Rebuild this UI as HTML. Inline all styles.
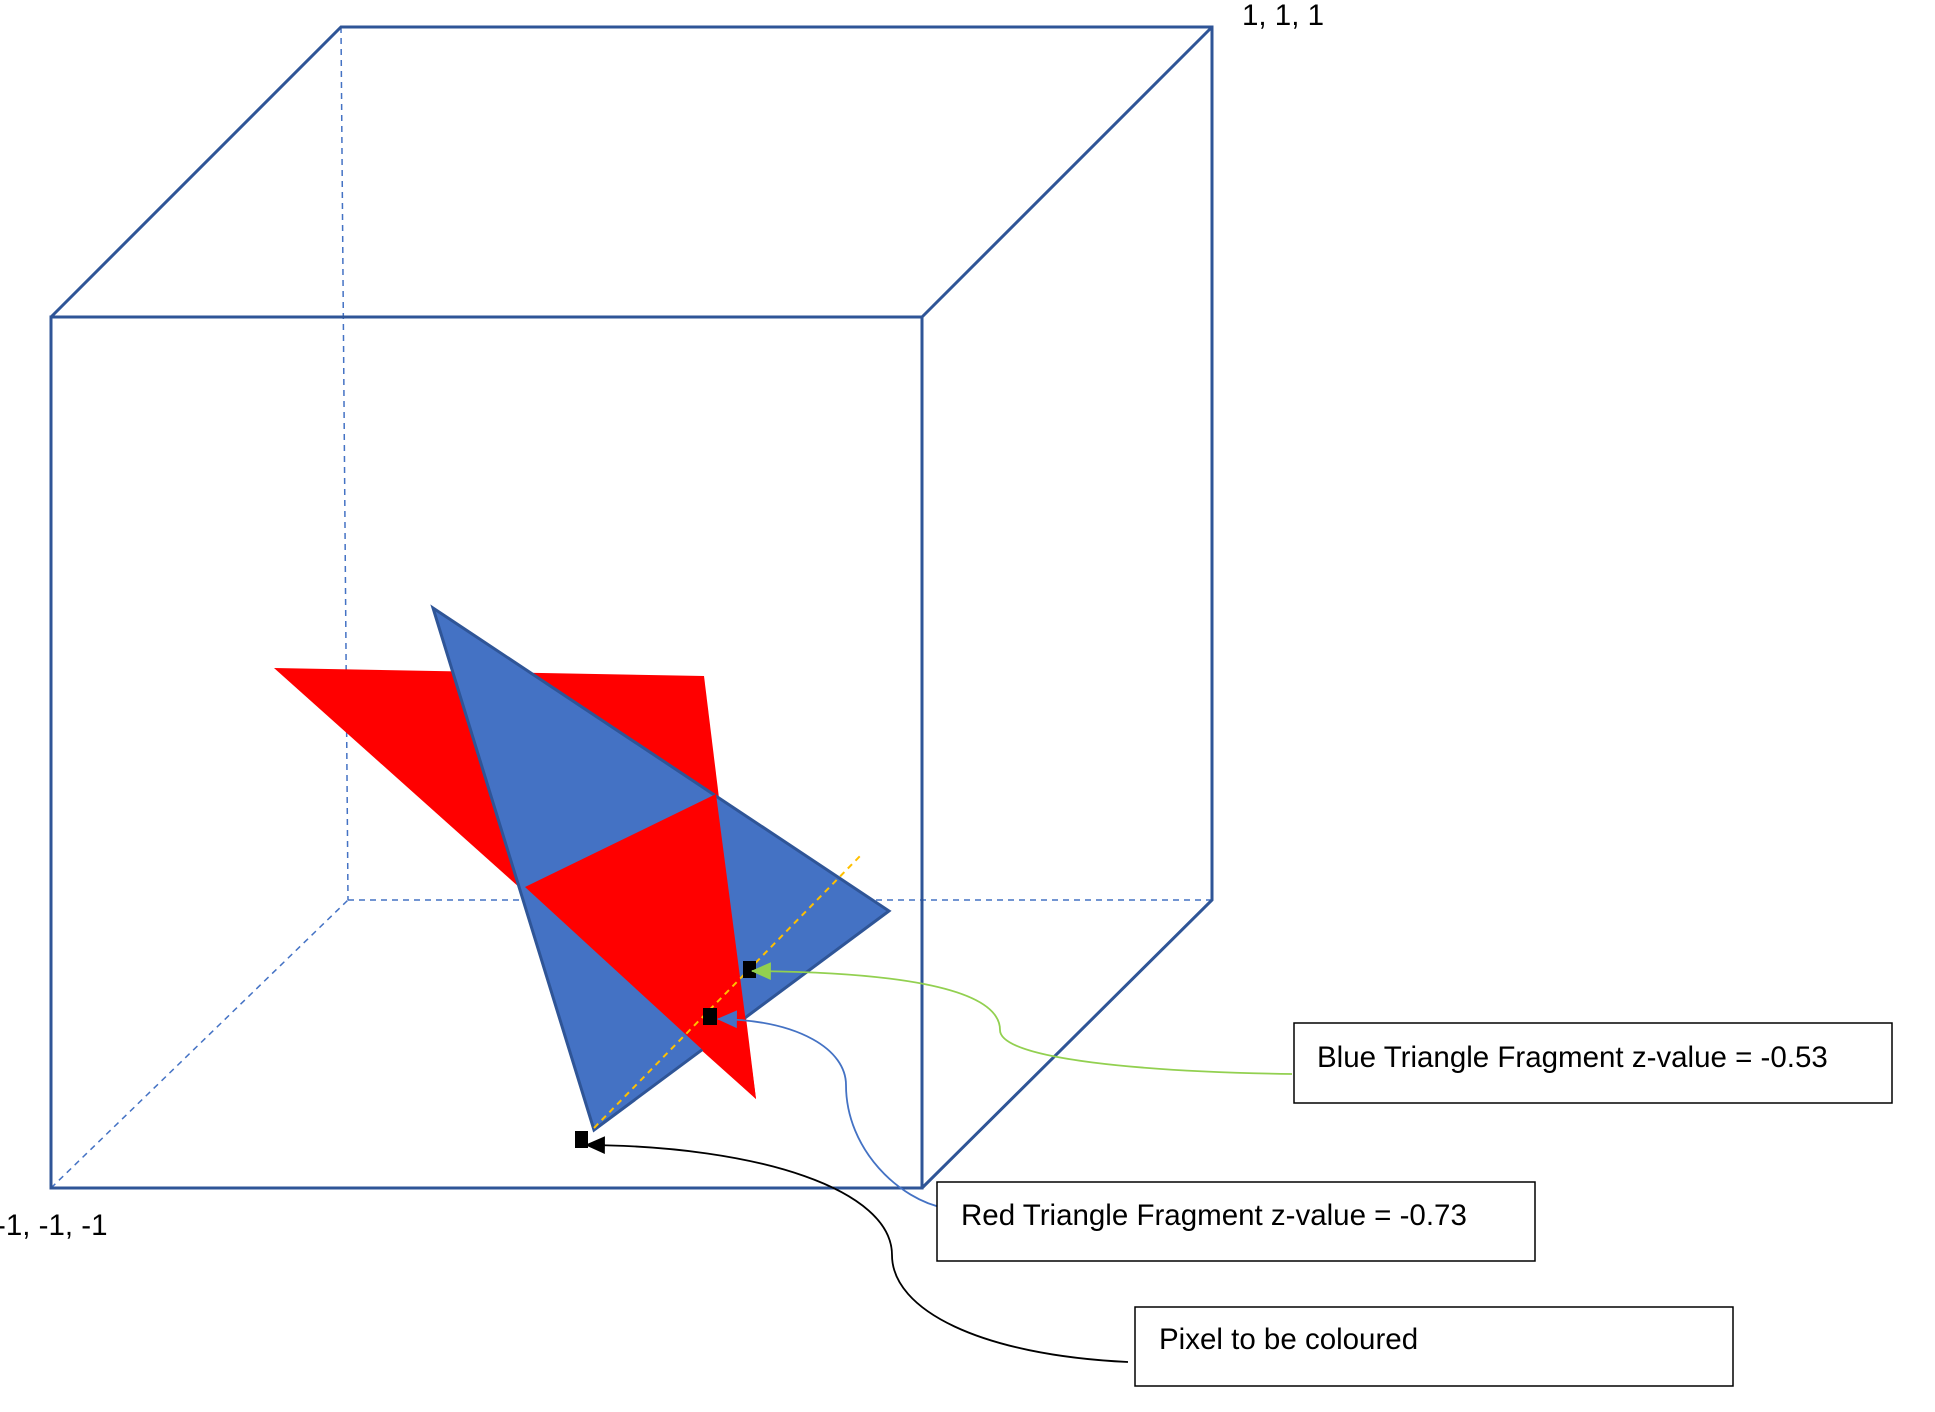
<!DOCTYPE html>
<html><head><meta charset="utf-8"><style>
html,body{margin:0;padding:0;background:#fff;}
svg text{font-family:"Liberation Sans",sans-serif;font-size:29.5px;fill:#000;}
</style></head><body>
<svg width="1935" height="1407" viewBox="0 0 1935 1407">
<defs>
<marker id="ag" markerWidth="20" markerHeight="20" refX="17" refY="8" orient="auto" markerUnits="userSpaceOnUse" viewBox="0 0 18 16"><path d="M0,0 L18,8 L0,16 Z" fill="#92D050"/></marker>
<marker id="ab" markerWidth="20" markerHeight="20" refX="17" refY="8" orient="auto" markerUnits="userSpaceOnUse" viewBox="0 0 18 16"><path d="M0,0 L18,8 L0,16 Z" fill="#4472C4"/></marker>
<marker id="ak" markerWidth="20" markerHeight="20" refX="17" refY="8" orient="auto" markerUnits="userSpaceOnUse" viewBox="0 0 18 16"><path d="M0,0 L18,8 L0,16 Z" fill="#000"/></marker>
</defs>
<g stroke="#4472C4" stroke-width="1.5" stroke-dasharray="6,5" fill="none">
<line x1="341" y1="27" x2="348" y2="900"/>
<line x1="348" y1="900" x2="1212" y2="900"/>
<line x1="51" y1="1188" x2="348" y2="900"/>
</g>
<g stroke="#2F5597" stroke-width="3" fill="none">
<rect x="51" y="317" width="871" height="871"/>
<polyline points="51,317 341,27 1212,27 1212,900 922,1188"/>
<line x1="922" y1="317" x2="1212" y2="27"/>
</g>
<polygon points="274,668 704,676 756,1099" fill="#FF0000"/>
<polygon points="433,608 889,911 594,1130" fill="#4472C4" stroke="#2F5597" stroke-width="3"/>
<polygon points="525,887 716,794 756,1099" fill="#FF0000"/>
<line x1="594" y1="1128" x2="863" y2="853" stroke="#FFC000" stroke-width="2" stroke-dasharray="6,5"/>
<rect x="743" y="961" width="13" height="17" fill="#000"/>
<rect x="703" y="1008" width="14" height="17" fill="#000"/>
<rect x="575" y="1131" width="13" height="17" fill="#000"/>
<path d="M1292,1074 C1150,1072 1000,1060 1000,1030 C1000,985 880,972 752,971" stroke="#92D050" stroke-width="1.8" fill="none" marker-end="url(#ag)"/>
<path d="M945,1208 C900,1200 846,1150 846,1085 C846,1050 800,1020 718,1019" stroke="#4472C4" stroke-width="1.8" fill="none" marker-end="url(#ab)"/>
<path d="M1128,1362 C980,1355 892,1310 892,1255 C892,1190 760,1146 586,1145" stroke="#000" stroke-width="1.8" fill="none" marker-end="url(#ak)"/>
<g>
<rect x="1294" y="1023" width="598" height="80" fill="#fff" stroke="#000" stroke-width="1.5"/>
<text x="1317" y="1067">Blue Triangle Fragment z-value = -0.53</text>
</g>
<g>
<rect x="937" y="1182" width="598" height="79" fill="#fff" stroke="#000" stroke-width="1.5"/>
<text x="961" y="1225">Red Triangle Fragment z-value = -0.73</text>
</g>
<g>
<rect x="1135" y="1307" width="598" height="79" fill="#fff" stroke="#000" stroke-width="1.5"/>
<text x="1159" y="1349">Pixel to be coloured</text>
</g>
<text x="1242" y="25">1, 1, 1</text>
<text x="-4" y="1235">-1, -1, -1</text>
</svg>
</body></html>
